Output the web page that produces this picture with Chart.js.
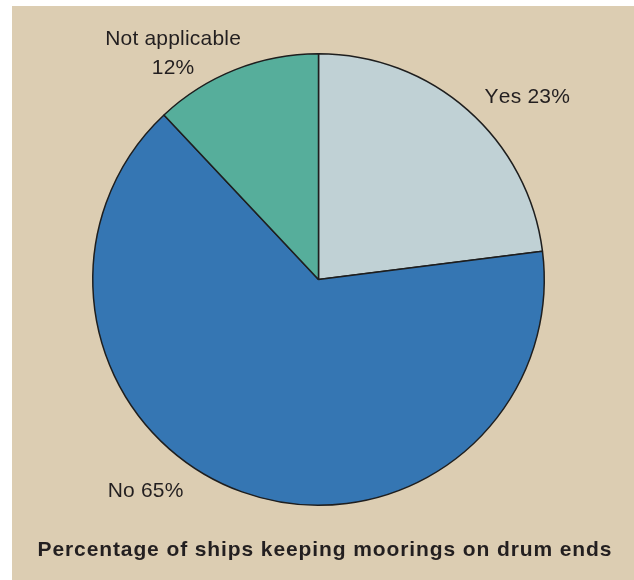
<!DOCTYPE html>
<html>
<head>
<meta charset="utf-8">
<script src="https://cdn.jsdelivr.net/npm/chart.js@4/dist/chart.umd.min.js"></script>
<style>
  body { margin: 0; background: #fff; }
  #panel { position: absolute; left: 12px; top: 6px; width: 622px; height: 574px; background: #dccdb2; }
</style>
</head>
<body>
<div id="panel"><canvas id="chart" width="622" height="574"></canvas></div>
<script>
/* data */
var labels = ["Yes", "No", "Not applicable"];
var values = [23, 65, 12];
var colors = ["#c0d1d5", "#3576b3", "#56ae9b"];
var titleText = "Percentage of ships keeping moorings on drum ends";

/* draw text with extra spacing between letters, centred on x */
function spacedText(ctx, text, x, y, spacing) {
    var total = 0, i;
    for (i = 0; i < text.length; i++) total += ctx.measureText(text[i]).width;
    total += spacing * (text.length - 1);
    var cx = x - total / 2;
    ctx.textAlign = 'left';
    for (i = 0; i < text.length; i++) {
        ctx.fillText(text[i], cx, y);
        cx += ctx.measureText(text[i]).width + spacing;
    }
}

/* labels drawn around the pie + title under it */
var outsideLabels = {
    id: 'outsideLabels',
    afterDatasetsDraw: function(chart, args, opts) {
        var ctx = chart.ctx;
        var arcs = chart.getDatasetMeta(0).data;
        ctx.save();
        ctx.font = opts.font;
        ctx.fillStyle = opts.color;
        ctx.textBaseline = 'middle';
        for (var i = 0; i < arcs.length; i++) {
            var a = arcs[i];
            var ang = (opts.angles[i] - 90) * Math.PI / 180;
            var x = a.x + Math.cos(ang) * a.outerRadius * opts.dist[i];
            var y = a.y + Math.sin(ang) * a.outerRadius * opts.dist[i];
            if (i == 2) {
                spacedText(ctx, labels[i], x, y - 14.8, opts.spacing);
                spacedText(ctx, values[i] + "%", x, y + 14.8, opts.spacing);
            } else {
                spacedText(ctx, labels[i] + " " + values[i] + "%", x, y, opts.spacing);
            }
        }

        // title, stretched to the width it has in the source
        ctx.font = opts.titleFont;
        ctx.textBaseline = 'alphabetic';
        var w = 0;
        for (var j = 0; j < titleText.length; j++) w += ctx.measureText(titleText[j]).width;
        var sp = (opts.titleWidth - w) / (titleText.length - 1);
        spacedText(ctx, titleText, opts.titleX, opts.titleY, sp);
        ctx.restore();
    }
};

window.onload = function() {
    var ctx = document.getElementById("chart").getContext("2d");
    window.theChart = new Chart(ctx, {
        type: 'pie',
        data: {
            labels: labels,
            datasets: [{
                data: values,
                backgroundColor: colors,
                borderColor: "#1e1e1e",
                borderWidth: 1.5
            }]
        },
        options: {
            responsive: false,
            animation: false,
            layout: { padding: { top: 47, left: 80, right: 89, bottom: 74 } },
            plugins: {
                legend: { display: false },
                tooltip: { enabled: false },
                outsideLabels: {
                    font: "21px 'Liberation Sans', Arial, sans-serif",
                    color: "#231f20",
                    spacing: 0.2,
                    angles: [48.9, 219.2, 327.2],
                    dist: [1.227, 1.212, 1.19],
                    titleFont: "bold 21px 'Liberation Sans', Arial, sans-serif",
                    titleWidth: 574,
                    titleX: 312.5,
                    titleY: 550
                }
            }
        },
        plugins: [outsideLabels]
    });
};
</script>
</body>
</html>
